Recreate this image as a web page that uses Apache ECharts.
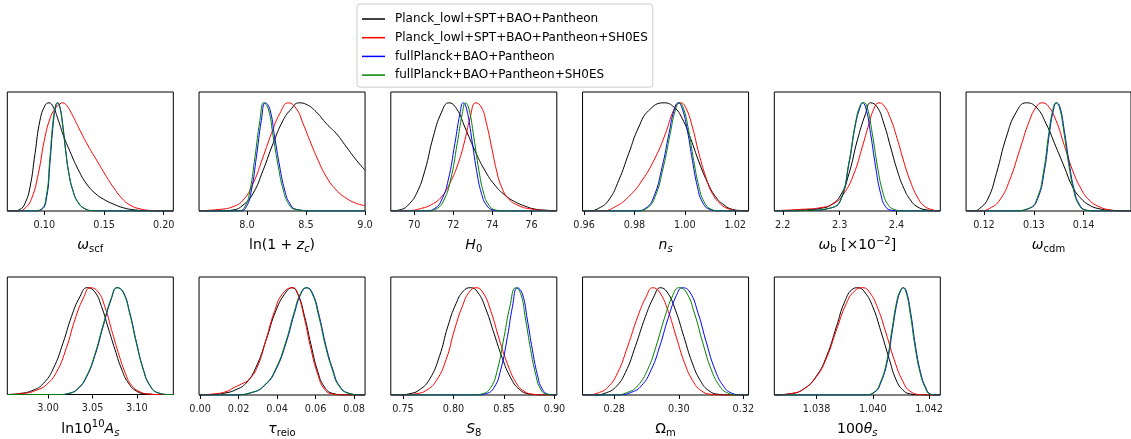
<!DOCTYPE html>
<html>
<head>
<meta charset="utf-8">
<script src="https://cdn.jsdelivr.net/npm/echarts@6/dist/echarts.min.js"></script>
<style>html,body{margin:0;padding:0;background:#fff;}#c{width:1131px;height:439px;}</style>
</head>
<body>
<div id="c"></div>
<script>
// ---- series names / colours ----
const seriesNames = ['Planck_lowl+SPT+BAO+Pantheon', 'Planck_lowl+SPT+BAO+Pantheon+SH0ES', 'fullPlanck+BAO+Pantheon', 'fullPlanck+BAO+Pantheon+SH0ES'];
const colors = ['#000000', '#ff0000', '#0000ff', '#008000'];

// ---- panel 1: omega_scf ----
const wscf_ticks = [0.10, 0.15, 0.20];
const wscf_k = [[0.069,0],[0.074,0],[0.0796,0.015],[0.0838,0.07],[0.088,0.22],[0.0922,0.53],[0.0964,0.84],[0.1006,0.975],[0.1039,1],[0.1075,0.96],[0.1117,0.84],[0.1159,0.70],[0.1215,0.55],[0.1285,0.38],[0.1354,0.25],[0.1424,0.165],[0.1494,0.11],[0.1578,0.064],[0.1661,0.03],[0.1745,0.012],[0.1857,0.003],[0.208,0]];
const wscf_r = [[0.069,0],[0.0782,0],[0.0838,0.025],[0.0894,0.117],[0.095,0.347],[0.1,0.653],[0.1047,0.853],[0.1089,0.945],[0.1131,0.99],[0.1153,1],[0.1187,0.975],[0.1229,0.9],[0.1299,0.745],[0.1368,0.6],[0.1438,0.47],[0.1508,0.34],[0.1578,0.22],[0.1647,0.12],[0.1717,0.055],[0.1801,0.02],[0.1912,0.004],[0.208,0]];
const wscf_b = [[0.069,0],[0.0908,0],[0.0978,0.015],[0.102,0.132],[0.1047,0.44],[0.1075,0.81],[0.1098,0.975],[0.1112,1],[0.1131,0.96],[0.1153,0.81],[0.1179,0.56],[0.1206,0.347],[0.1243,0.178],[0.1285,0.077],[0.134,0.021],[0.141,0.003],[0.152,0],[0.208,0]];
const wscf_g = [[0.069,0],[0.0905,0],[0.0975,0.018],[0.1017,0.14],[0.1044,0.45],[0.1072,0.82],[0.1095,0.98],[0.1109,1],[0.1128,0.965],[0.115,0.82],[0.1177,0.57],[0.1204,0.355],[0.1241,0.18],[0.1283,0.078],[0.1338,0.021],[0.1408,0.003],[0.152,0],[0.208,0]];

// ---- panel 2: ln(1+z_c) ----
const lnzc_ticks = [8.0, 8.5, 9.0];
const lnzc_k = [[7.593,0],[7.768,0],[7.881,0.009],[7.966,0.055],[8.051,0.163],[8.136,0.377],[8.22,0.623],[8.305,0.837],[8.376,0.945],[8.438,1],[8.503,0.985],[8.588,0.914],[8.672,0.807],[8.757,0.715],[8.842,0.592],[8.927,0.469],[9.0,0.377]];
const lnzc_r = [[7.593,0.003],[7.768,0.015],[7.881,0.04],[7.966,0.10],[8.051,0.255],[8.136,0.5],[8.206,0.715],[8.277,0.9],[8.35,1],[8.418,0.945],[8.475,0.807],[8.531,0.653],[8.602,0.469],[8.672,0.316],[8.757,0.193],[8.842,0.117],[8.927,0.07],[9.0,0.049]];
const lnzc_b = [[7.593,0],[7.938,0],[7.994,0.04],[8.037,0.193],[8.079,0.5],[8.121,0.837],[8.155,1],[8.192,0.945],[8.234,0.684],[8.277,0.408],[8.319,0.193],[8.362,0.07],[8.418,0.015],[8.588,0],[9.0,0]];
const lnzc_g = [[7.593,0],[7.926,0],[7.982,0.04],[8.025,0.193],[8.067,0.5],[8.109,0.837],[8.142,1],[8.18,0.945],[8.222,0.684],[8.265,0.408],[8.307,0.193],[8.35,0.07],[8.406,0.015],[8.576,0],[9.0,0]];

// ---- panel 3: H0 ----
const h0_ticks = [70, 72, 74, 76];
const h0_k = [[68.8,0],[69.35,0.015],[69.69,0.055],[70.12,0.163],[70.55,0.377],[70.97,0.684],[71.4,0.914],[71.77,1],[72.17,0.945],[72.59,0.776],[73.1,0.561],[73.61,0.377],[74.13,0.239],[74.64,0.147],[75.15,0.086],[75.66,0.046],[76.17,0.018],[76.85,0.006],[77.3,0]];
const h0_r = [[68.8,0],[69.69,0.003],[70.38,0.025],[70.89,0.06],[71.4,0.132],[71.82,0.255],[72.25,0.44],[72.59,0.653],[72.85,0.853],[73.15,1],[73.44,0.96],[73.7,0.807],[73.96,0.592],[74.21,0.377],[74.47,0.224],[74.81,0.117],[75.32,0.052],[76.0,0.018],[76.85,0.003],[77.3,0]];
const h0_b = [[68.8,0],[70.55,0],[71.06,0.025],[71.4,0.101],[71.74,0.285],[72.08,0.623],[72.34,0.9],[72.51,1],[72.68,0.945],[72.93,0.684],[73.19,0.377],[73.44,0.163],[73.7,0.055],[74.04,0.009],[74.47,0],[77.3,0]];
const h0_g = [[68.8,0],[70.67,0],[71.18,0.025],[71.52,0.101],[71.86,0.285],[72.2,0.623],[72.46,0.9],[72.63,1],[72.8,0.945],[73.05,0.684],[73.31,0.377],[73.56,0.163],[73.82,0.055],[74.16,0.009],[74.59,0],[77.3,0]];

// ---- panel 4: n_s ----
const ns_ticks = [0.96, 0.98, 1.00, 1.02];
const ns_k = [[0.9594,0],[0.9618,0],[0.9658,0.025],[0.9698,0.101],[0.9738,0.285],[0.9777,0.53],[0.9817,0.776],[0.9857,0.929],[0.9917,1],[0.9957,0.96],[0.999,0.853],[1.0023,0.669],[1.0056,0.454],[1.0089,0.27],[1.0122,0.132],[1.0156,0.055],[1.0189,0.015],[1.0229,0.003],[1.0253,0]];
const ns_r = [[0.9594,0],[0.9671,0],[0.9724,0.04],[0.9777,0.132],[0.9831,0.285],[0.9884,0.5],[0.9923,0.715],[0.995,0.9],[0.997,0.985],[0.9983,1],[1.0003,0.96],[1.003,0.776],[1.0056,0.53],[1.0083,0.316],[1.0109,0.163],[1.0142,0.064],[1.0176,0.018],[1.0215,0.003],[1.0253,0]];
const ns_b = [[0.9594,0],[0.9804,0],[0.9844,0.025],[0.9877,0.132],[0.991,0.408],[0.9937,0.715],[0.9957,0.929],[0.9974,1],[0.999,0.945],[1.001,0.745],[1.003,0.469],[1.005,0.224],[1.0069,0.086],[1.0096,0.018],[1.0136,0],[1.0253,0]];
const ns_g = [[0.9594,0],[0.9809,0],[0.9849,0.025],[0.9882,0.132],[0.9915,0.408],[0.9942,0.715],[0.9962,0.929],[0.9979,1],[0.9995,0.945],[1.0015,0.745],[1.0035,0.469],[1.0056,0.224],[1.0076,0.086],[1.0103,0.018],[1.0143,0],[1.0253,0]];

// ---- panel 5: omega_b ----
const wb_ticks = [2.2, 2.3, 2.4];
const wb_k = [[2.185,0],[2.2316,0.009],[2.2667,0.025],[2.2842,0.055],[2.3018,0.147],[2.3164,0.347],[2.331,0.653],[2.3456,0.9],[2.3544,1],[2.3661,0.96],[2.3778,0.807],[2.3895,0.592],[2.4012,0.377],[2.4129,0.209],[2.4246,0.101],[2.4363,0.04],[2.4539,0.009],[2.477,0]];
const wb_r = [[2.185,0.003],[2.2316,0.015],[2.2667,0.031],[2.29,0.07],[2.3076,0.163],[2.3252,0.347],[2.3398,0.592],[2.3515,0.807],[2.3603,0.945],[2.369,1],[2.3778,0.975],[2.3895,0.853],[2.4012,0.669],[2.4129,0.454],[2.4246,0.27],[2.4363,0.132],[2.448,0.049],[2.4626,0.012],[2.477,0]];
const wb_b = [[2.185,0],[2.2491,0.006],[2.2842,0.028],[2.3018,0.101],[2.3164,0.439],[2.3281,0.807],[2.3369,0.975],[2.3398,1],[2.3456,0.96],[2.3544,0.715],[2.3632,0.408],[2.372,0.163],[2.3807,0.04],[2.3924,0.006],[2.4129,0],[2.477,0]];
const wb_g = [[2.185,0],[2.2491,0.006],[2.2842,0.028],[2.3018,0.107],[2.3164,0.454],[2.3281,0.822],[2.3369,0.985],[2.3427,1],[2.3486,0.955],[2.3574,0.715],[2.3661,0.423],[2.3749,0.193],[2.3837,0.07],[2.3954,0.015],[2.4129,0],[2.477,0]];

// ---- panel 6: omega_cdm ----
const wcdm_ticks = [0.12, 0.13, 0.14];
const wcdm_k = [[0.1164,0],[0.11784,0],[0.11917,0.025],[0.12083,0.117],[0.12249,0.347],[0.12448,0.684],[0.12648,0.914],[0.12847,1],[0.13047,0.96],[0.13246,0.807],[0.13445,0.592],[0.13611,0.408],[0.13777,0.224],[0.13944,0.117],[0.1411,0.055],[0.14309,0.021],[0.14575,0.006],[0.1495,0]];
const wcdm_r = [[0.1164,0],[0.11917,0],[0.12116,0.025],[0.12316,0.101],[0.12515,0.285],[0.12714,0.561],[0.12914,0.837],[0.13047,0.96],[0.13159,1],[0.13279,0.975],[0.13445,0.837],[0.13611,0.607],[0.13777,0.377],[0.13944,0.209],[0.1411,0.101],[0.14309,0.04],[0.14508,0.012],[0.14774,0],[0.1495,0]];
const wcdm_b = [[0.1164,0],[0.12581,0],[0.12914,0.025],[0.1308,0.117],[0.13213,0.377],[0.13312,0.715],[0.13392,0.929],[0.13458,1],[0.13525,0.96],[0.13611,0.745],[0.13711,0.439],[0.13811,0.193],[0.1391,0.064],[0.14043,0.009],[0.14243,0],[0.1495,0]];
const wcdm_g = [[0.1164,0],[0.12568,0],[0.12901,0.025],[0.13067,0.117],[0.132,0.377],[0.13299,0.715],[0.13379,0.929],[0.13445,1],[0.13512,0.96],[0.13598,0.745],[0.13698,0.439],[0.13798,0.193],[0.13897,0.064],[0.1403,0.009],[0.1423,0],[0.1495,0]];

// ---- panel 7: ln10^10 A_s ----
const las_ticks = [3.00, 3.05, 3.10];
const las_k = [[2.954,0],[2.968,0.009],[2.9831,0.04],[2.9943,0.101],[3.0056,0.239],[3.0169,0.485],[3.0263,0.73],[3.0357,0.914],[3.044,1],[3.0526,0.96],[3.0602,0.822],[3.0677,0.623],[3.0752,0.423],[3.0827,0.239],[3.0902,0.11],[3.0996,0.031],[3.1109,0.006],[3.126,0],[3.141,0]];
const las_r = [[2.954,0],[2.9718,0.009],[2.9868,0.04],[2.9981,0.092],[3.0094,0.209],[3.0207,0.439],[3.0301,0.699],[3.0395,0.899],[3.0477,1],[3.0564,0.96],[3.0639,0.822],[3.0714,0.607],[3.079,0.393],[3.0865,0.209],[3.094,0.086],[3.1034,0.025],[3.1147,0.003],[3.126,0],[3.141,0]];
const las_b = [[2.954,0],[3.0132,0],[3.0244,0.012],[3.0338,0.055],[3.0432,0.163],[3.0526,0.362],[3.062,0.638],[3.0714,0.899],[3.0778,1],[3.0846,0.96],[3.0921,0.761],[3.0996,0.485],[3.1072,0.239],[3.1147,0.086],[3.1241,0.015],[3.1372,0],[3.141,0]];
const las_g = [[2.954,0],[3.0128,0],[3.024,0.012],[3.0334,0.056],[3.0428,0.165],[3.0522,0.365],[3.0616,0.642],[3.071,0.9],[3.0775,1],[3.0843,0.96],[3.0918,0.76],[3.0993,0.483],[3.1069,0.238],[3.1144,0.085],[3.1238,0.015],[3.1368,0],[3.141,0]];

// ---- panel 8: tau_reio ----
const tau_ticks = [0.00, 0.02, 0.04, 0.06, 0.08];
const tau_k = [[-0.0005,0],[0.00657,0.004],[0.0135,0.02],[0.0187,0.05],[0.02389,0.11],[0.02909,0.26],[0.03428,0.51],[0.03948,0.79],[0.04468,0.96],[0.04779,1],[0.05074,0.945],[0.0542,0.74],[0.05767,0.465],[0.06113,0.22],[0.0646,0.075],[0.06893,0.015],[0.07586,0],[0.0857,0]];
const tau_r = [[-0.0005,0],[0.00657,0.009],[0.0135,0.031],[0.01783,0.071],[0.0213,0.101],[0.02562,0.147],[0.02995,0.27],[0.03428,0.515],[0.03861,0.776],[0.04294,0.945],[0.04814,1],[0.0507,0.945],[0.0542,0.715],[0.05767,0.423],[0.06113,0.193],[0.0646,0.055],[0.06893,0.009],[0.07586,0],[0.0857,0]];
const tau_b = [[-0.0005,0],[0.01696,0],[0.02736,0.025],[0.03428,0.101],[0.03948,0.239],[0.04468,0.485],[0.04901,0.761],[0.05247,0.945],[0.05541,1],[0.05853,0.945],[0.062,0.73],[0.06546,0.454],[0.06893,0.239],[0.07239,0.086],[0.07759,0.015],[0.08452,0],[0.0857,0]];
const tau_g = [[-0.0005,0],[0.01666,0],[0.02706,0.025],[0.03398,0.101],[0.03918,0.239],[0.04438,0.485],[0.04871,0.761],[0.05217,0.945],[0.05511,1],[0.05823,0.945],[0.0617,0.73],[0.06516,0.454],[0.06863,0.239],[0.07209,0.086],[0.07729,0.015],[0.08422,0],[0.0857,0]];

// ---- panel 9: S8 ----
const s8_ticks = [0.75, 0.80, 0.85, 0.90];
const s8_k = [[0.738,0],[0.7436,0],[0.7567,0.012],[0.7665,0.049],[0.7764,0.147],[0.7862,0.362],[0.7944,0.638],[0.8026,0.853],[0.8098,0.969],[0.8167,1],[0.8239,0.96],[0.8321,0.8],[0.8403,0.57],[0.8485,0.34],[0.8567,0.16],[0.865,0.055],[0.8748,0.01],[0.8879,0],[0.9023,0]];
const s8_r = [[0.738,0],[0.7501,0],[0.7633,0.012],[0.7731,0.043],[0.7829,0.132],[0.7928,0.331],[0.801,0.607],[0.8092,0.837],[0.8157,0.96],[0.8223,1],[0.8289,0.96],[0.8371,0.78],[0.8453,0.52],[0.8535,0.29],[0.8617,0.12],[0.8699,0.035],[0.8797,0.006],[0.8912,0],[0.9023,0]];
const s8_b = [[0.738,0],[0.8223,0],[0.8321,0.012],[0.8403,0.071],[0.8469,0.239],[0.8535,0.546],[0.8584,0.822],[0.8633,1],[0.8682,0.945],[0.8732,0.699],[0.8781,0.423],[0.883,0.193],[0.8879,0.055],[0.8945,0.006],[0.9023,0]];
const s8_g = [[0.738,0],[0.819,0],[0.8288,0.012],[0.837,0.071],[0.8436,0.239],[0.8502,0.546],[0.8558,0.822],[0.8617,1],[0.8666,0.945],[0.8715,0.699],[0.8764,0.423],[0.8814,0.193],[0.8863,0.055],[0.8928,0.006],[0.9023,0]];

// ---- panel 10: Omega_m ----
const om_ticks = [0.28, 0.30, 0.32];
const om_k = [[0.2702,0],[0.27415,0],[0.27725,0.018],[0.28036,0.071],[0.28346,0.209],[0.28656,0.454],[0.28966,0.73],[0.29225,0.914],[0.29431,1],[0.29638,0.96],[0.29897,0.791],[0.30155,0.546],[0.30414,0.301],[0.30672,0.132],[0.30931,0.04],[0.31241,0.006],[0.31551,0],[0.3216,0]];
const om_r = [[0.2702,0],[0.27177,0],[0.27487,0.018],[0.27798,0.071],[0.28108,0.209],[0.28418,0.454],[0.28728,0.73],[0.28987,0.914],[0.29193,1],[0.294,0.96],[0.29659,0.791],[0.29917,0.546],[0.30176,0.301],[0.30434,0.132],[0.30693,0.04],[0.31003,0.006],[0.31313,0],[0.3216,0]];
const om_b = [[0.2702,0],[0.28118,0],[0.28532,0.025],[0.28842,0.086],[0.29152,0.239],[0.29411,0.454],[0.29669,0.715],[0.29928,0.929],[0.30114,1],[0.30341,0.96],[0.306,0.761],[0.30858,0.485],[0.31117,0.239],[0.31375,0.086],[0.31634,0.018],[0.31944,0],[0.3216,0]];
const om_g = [[0.2702,0],[0.28004,0],[0.28418,0.025],[0.28728,0.086],[0.29038,0.239],[0.29297,0.454],[0.29555,0.715],[0.29814,0.929],[0.3,1],[0.30227,0.96],[0.30486,0.761],[0.30744,0.485],[0.31003,0.239],[0.31261,0.086],[0.3152,0.018],[0.3183,0],[0.3216,0]];

// ---- panel 11: 100 theta_s ----
const th_ticks = [1.038, 1.040, 1.042];
const th_k = [[1.0365,0],[1.03707,0.012],[1.03754,0.055],[1.038,0.178],[1.03836,0.362],[1.03871,0.638],[1.039,0.868],[1.0393,0.99],[1.03947,1],[1.03971,0.96],[1.04,0.822],[1.04029,0.592],[1.04059,0.331],[1.04082,0.147],[1.04106,0.049],[1.04135,0.009],[1.04176,0],[1.0424,0]];
const th_r = [[1.0365,0],[1.03707,0.012],[1.03754,0.055],[1.038,0.172],[1.03836,0.347],[1.03871,0.607],[1.03906,0.853],[1.03935,0.969],[1.03965,1],[1.03988,0.96],[1.04018,0.807],[1.04047,0.577],[1.04076,0.331],[1.04106,0.132],[1.04135,0.031],[1.04176,0.003],[1.04211,0],[1.0424,0]];
const th_b = [[1.0365,0],[1.03971,0],[1.04006,0.025],[1.04029,0.117],[1.04053,0.331],[1.0407,0.607],[1.04088,0.883],[1.041,0.975],[1.04109,1],[1.0412,0.96],[1.04135,0.761],[1.04152,0.454],[1.0417,0.209],[1.04188,0.071],[1.04205,0.009],[1.04229,0],[1.0424,0]];
const th_g = [[1.0365,0],[1.03969,0],[1.04004,0.025],[1.04027,0.117],[1.04051,0.331],[1.04068,0.607],[1.04086,0.883],[1.04098,0.975],[1.04107,1],[1.04118,0.96],[1.04133,0.761],[1.0415,0.454],[1.04168,0.209],[1.04186,0.071],[1.04203,0.009],[1.04227,0],[1.0424,0]];

// ---- axis titles (rich text) ----
const titles = [
  '{it|ω}{sub|scf}',
  '{rm|ln(1 + }{it|z}{subit|c}{rm|)}',
  '{it|H}{sub|0}',
  '{it|n}{subit|s}',
  '{it|ω}{sub|b}{rm| [×10}{sup|−2}{rm|]}',
  '{it|ω}{sub|cdm}',
  '{rm|ln10}{sup|10}{it|A}{subit|s}',
  '{it|τ}{sub|reio}',
  '{it|S}{sub|8}',
  '{rm|Ω}{sub|m}',
  '{rm|100}{it|θ}{subit|s}'
];

const panels = [
  { range: [0.069, 0.208], ticks: wscf_ticks, dec: 2, curves: [wscf_k, wscf_r, wscf_b, wscf_g] },
  { range: [7.593, 9.0], ticks: lnzc_ticks, dec: 1, curves: [lnzc_k, lnzc_r, lnzc_b, lnzc_g] },
  { range: [68.8, 77.3], ticks: h0_ticks, dec: 0, curves: [h0_k, h0_r, h0_b, h0_g] },
  { range: [0.9594, 1.0253], ticks: ns_ticks, dec: 2, curves: [ns_k, ns_r, ns_b, ns_g] },
  { range: [2.185, 2.477], ticks: wb_ticks, dec: 1, curves: [wb_k, wb_r, wb_b, wb_g] },
  { range: [0.1164, 0.1495], ticks: wcdm_ticks, dec: 2, curves: [wcdm_k, wcdm_r, wcdm_b, wcdm_g] },
  { range: [2.954, 3.141], ticks: las_ticks, dec: 2, curves: [las_k, las_r, las_b, las_g] },
  { range: [-0.0005, 0.0857], ticks: tau_ticks, dec: 2, curves: [tau_k, tau_r, tau_b, tau_g] },
  { range: [0.738, 0.9023], ticks: s8_ticks, dec: 2, curves: [s8_k, s8_r, s8_b, s8_g] },
  { range: [0.2702, 0.3216], ticks: om_ticks, dec: 2, curves: [om_k, om_r, om_b, om_g] },
  { range: [1.0365, 1.0424], ticks: th_ticks, dec: 3, curves: [th_k, th_r, th_b, th_g] }
];

const FONT = 'DejaVu Sans';
const grids = [], xAxes = [], yAxes = [], series = [];
panels.forEach((p, i) => {
  const row = i < 6 ? 0 : 1;
  const col = i < 6 ? i : i - 6;
  grids.push({
    left: 7.3 + col * 191.75, top: row === 0 ? 92 : 277, width: 166, height: 119,
    show: true, borderColor: '#000', borderWidth: 1, backgroundColor: 'transparent', containLabel: false
  });
  xAxes.push({
    type: 'value', gridIndex: i, min: p.range[0], max: p.range[1],
    axisLine: { show: false },
    splitLine: { show: false },
    axisTick: { show: true, inside: false, length: 4, lineStyle: { color: '#000', width: 1 }, customValues: p.ticks },
    axisLabel: {
      show: true, customValues: p.ticks, margin: 9, fontFamily: FONT, fontSize: 9.7, color: '#222',
      formatter: (v) => Number(v).toFixed(p.dec)
    },
    name: titles[i], nameLocation: 'middle', nameGap: 25,
    nameTextStyle: {
      fontFamily: FONT, fontSize: 14, color: '#000',
      rich: {
        it: { fontFamily: FONT, fontSize: 14, fontStyle: 'italic', color: '#000' },
        rm: { fontFamily: FONT, fontSize: 14, color: '#000' },
        sub: { fontFamily: FONT, fontSize: 10, color: '#000', padding: [8, 0, 0, 0] },
        subit: { fontFamily: FONT, fontSize: 10, fontStyle: 'italic', color: '#000', padding: [8, 0, 0, 0] },
        sup: { fontFamily: FONT, fontSize: 10, color: '#000', padding: [0, 0, 9, 0] }
      }
    }
  });
  yAxes.push({ type: 'value', gridIndex: i, min: 0, max: 1.1, show: false });
  p.curves.forEach((c, k) => {
    series.push({
      name: seriesNames[k], type: 'line', xAxisIndex: i, yAxisIndex: i,
      data: c, smooth: 0.5, symbol: 'none', clip: true,
      lineStyle: { color: colors[k], width: 1 }, itemStyle: { color: colors[k] },
      z: 2 + k, animation: false
    });
  });
});

const chart = echarts.init(document.getElementById('c'), null, { renderer: 'canvas' });
chart.setOption({
  animation: false,
  backgroundColor: '#fff',
  grid: grids, xAxis: xAxes, yAxis: yAxes, series: series,
  legend: {
    data: seriesNames, orient: 'vertical', left: 357, top: 4,
    icon: 'rect',
    backgroundColor: '#fff', borderColor: '#cccccc', borderWidth: 1, borderRadius: 3,
    padding: [8, 5, 5, 5], itemWidth: 23, itemHeight: 1.5, itemGap: 4.7,
    selectedMode: false,
    textStyle: { fontFamily: FONT, fontSize: 12, lineHeight: 14, color: '#000', padding: [0, 0, 0, 5] }
  }
});
</script>
</body>
</html>
